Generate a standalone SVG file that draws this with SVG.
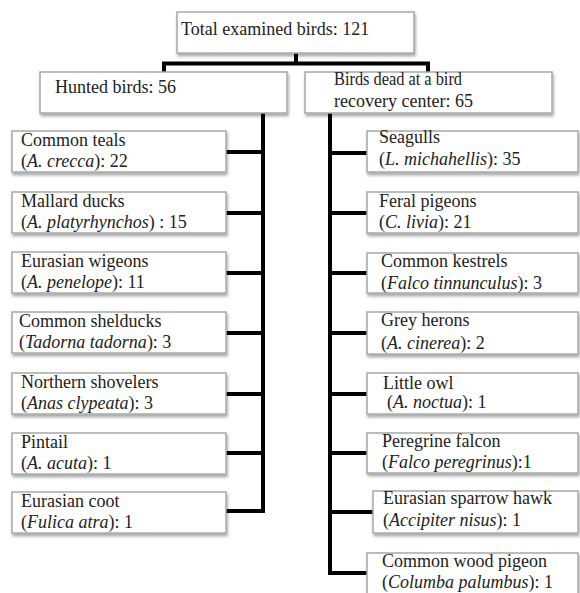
<svg xmlns="http://www.w3.org/2000/svg" width="580" height="593" viewBox="0 0 580 593">
<defs>
<filter id="sh" x="-5%" y="-10%" width="115%" height="140%">
<feDropShadow dx="1" dy="2.5" stdDeviation="1.5" flood-color="#000" flood-opacity="0.35"/>
</filter>
<style>
.box{fill:#fff;stroke:#a8a8a8;stroke-width:1.5;filter:url(#sh)}
.t{font-family:'Tinos','Times New Roman','Liberation Serif','DejaVu Serif',serif;font-size:18px;fill:#222}
.i{font-style:italic}
.c{fill:none;stroke:#000;stroke-width:4;stroke-linejoin:miter}
</style>
</defs>
<rect width="580" height="593" fill="#fff"/>
<g id="connectors">
<path class="c" d="M296 53V63.5M164 72V63.5H428V72"/>
<path class="c" d="M263 113V511H226M263 152H226M263 213H226M263 273H226M263 333H226M263 394H226M263 453H226"/>
<path class="c" d="M330 113V573H367M330 153H367M330 213H367M330 273H367M330 333H367M330 394H367M330 453H367M330 512H373"/>
</g>
<g class="t">
<g id="total"><rect class="box" x="177" y="12" width="237" height="41"/><text x="181" y="35">Total examined birds: 121</text></g>
<g id="hunted"><rect class="box" x="40" y="72" width="247" height="41"/><text x="55" y="93">Hunted birds: 56</text></g>
<g id="recovery"><rect class="box" x="305" y="72" width="247" height="41"/><text x="334" y="85" textLength="128" lengthAdjust="spacingAndGlyphs">Birds dead at a bird</text><text x="334" y="107">recovery center: 65</text></g>
<g id="teals"><rect class="box" x="12" y="131" width="214" height="41"/><text x="21" y="146">Common teals</text><text x="21" y="167">(<tspan class="i">A. crecca</tspan>): 22</text></g>
<g id="mallard"><rect class="box" x="12" y="192" width="214" height="41"/><text x="21" y="207">Mallard ducks</text><text x="21" y="228">(<tspan class="i">A. platyrhynchos</tspan>) : 15</text></g>
<g id="wigeons"><rect class="box" x="12" y="252" width="214" height="41"/><text x="21" y="267">Eurasian wigeons</text><text x="21" y="288">(<tspan class="i">A. penelope</tspan>): 11</text></g>
<g id="shelducks"><rect class="box" x="12" y="312" width="214" height="41"/><text x="19" y="327">Common shelducks</text><text x="19" y="348">(<tspan class="i">Tadorna tadorna</tspan>): 3</text></g>
<g id="shovelers"><rect class="box" x="12" y="373" width="214" height="41"/><text x="21" y="388">Northern shovelers</text><text x="21" y="409">(<tspan class="i">Anas clypeata</tspan>): 3</text></g>
<g id="pintail"><rect class="box" x="12" y="433" width="214" height="41"/><text x="21" y="448">Pintail</text><text x="21" y="469">(<tspan class="i">A. acuta</tspan>): 1</text></g>
<g id="coot"><rect class="box" x="12" y="492" width="214" height="41"/><text x="21" y="507">Eurasian coot</text><text x="21" y="528">(<tspan class="i">Fulica atra</tspan>): 1</text></g>
<g id="seagulls"><rect class="box" x="367" y="131" width="211" height="41"/><text x="379" y="143">Seagulls</text><text x="379" y="165">(<tspan class="i">L. michahellis</tspan>): 35</text></g>
<g id="pigeons"><rect class="box" x="367" y="192" width="211" height="41"/><text x="379" y="207">Feral pigeons</text><text x="379" y="228">(<tspan class="i">C. livia</tspan>): 21</text></g>
<g id="kestrels"><rect class="box" x="367" y="253" width="211" height="40"/><text x="381" y="267">Common kestrels</text><text x="381" y="289">(<tspan class="i">Falco tinnunculus</tspan>): 3</text></g>
<g id="herons"><rect class="box" x="367" y="312" width="211" height="42"/><text x="381" y="326">Grey herons</text><text x="381" y="349">(<tspan class="i">A. cinerea</tspan>): 2</text></g>
<g id="owl"><rect class="box" x="367" y="373" width="211" height="41"/><text x="383" y="389">Little owl</text><text x="387" y="408">(<tspan class="i">A. noctua</tspan>): 1</text></g>
<g id="falcon"><rect class="box" x="367" y="433" width="211" height="40"/><text x="382" y="447">Peregrine falcon</text><text x="382" y="468">(<tspan class="i">Falco peregrinus</tspan>):1</text></g>
<g id="hawk"><rect class="box" x="373" y="491" width="205" height="42"/><text x="383" y="504">Eurasian sparrow hawk</text><text x="383" y="526">(<tspan class="i">Accipiter nisus</tspan>): 1</text></g>
<g id="woodpigeon"><rect class="box" x="367" y="553" width="211" height="44"/><text x="382" y="567">Common wood pigeon</text><text x="382" y="588">(<tspan class="i">Columba palumbus</tspan>): 1</text></g>
</g>
</svg>
